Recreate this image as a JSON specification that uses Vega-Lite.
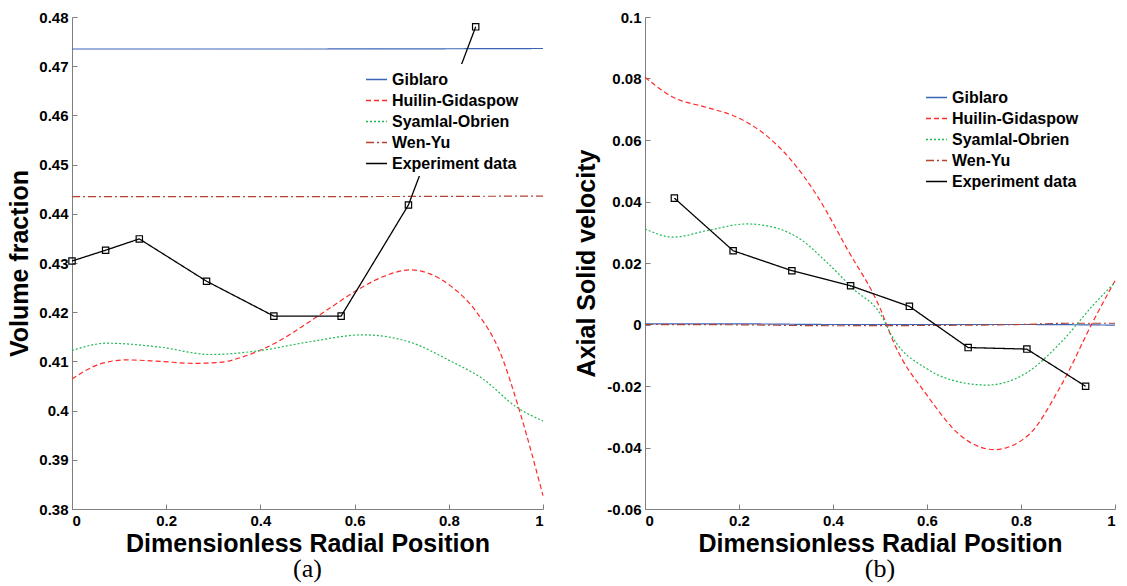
{
  "$schema": "https://vega.github.io/schema/vega-lite/v6.json",
  "background": "white",
  "padding": {"left": 7, "top": 10, "right": 5, "bottom": 3},
  "spacing": 102,
  "bounds": "flush",
  "resolve": {
    "scale": {"color": "independent", "strokeDash": "independent"},
    "legend": {"color": "independent", "strokeDash": "independent"}
  },
  "config": {
    "view": {"stroke": null},
    "font": "Liberation Sans",
    "axis": {
      "grid": false,
      "domainColor": "#7f7f7f",
      "tickColor": "#7f7f7f",
      "tickSize": -5,
      "labelFont": "Liberation Sans",
      "labelFontWeight": "bold",
      "labelFontSize": 15,
      "labelColor": "black",
      "titleFont": "Liberation Sans",
      "titleFontWeight": "bold",
      "titleFontSize": 25,
      "titleColor": "black"
    },
    "legend": {
      "labelFont": "Liberation Sans",
      "labelFontWeight": "bold",
      "labelFontSize": 16,
      "labelColor": "black",
      "symbolType": "stroke",
      "symbolSize": 441,
      "symbolStrokeWidth": 1.3,
      "fillColor": "white",
      "padding": 4,
      "rowPadding": 1,
      "labelOffset": 4,
      "labelLimit": 300
    }
  },
  "datasets": {
    "left": [
      {"series": "Giblaro", "x": 0, "y": 0.4735},
      {"series": "Giblaro", "x": 0.5, "y": 0.4735},
      {"series": "Giblaro", "x": 1, "y": 0.4736},
      {"series": "Wen-Yu", "x": 0, "y": 0.4435},
      {"series": "Wen-Yu", "x": 0.5, "y": 0.4435},
      {"series": "Wen-Yu", "x": 1, "y": 0.4436},
      {"series": "Huilin-Gidaspow", "x": 0, "y": 0.4064},
      {"series": "Huilin-Gidaspow", "x": 0.03, "y": 0.4082},
      {"series": "Huilin-Gidaspow", "x": 0.06, "y": 0.4095},
      {"series": "Huilin-Gidaspow", "x": 0.116, "y": 0.4103},
      {"series": "Huilin-Gidaspow", "x": 0.187, "y": 0.41},
      {"series": "Huilin-Gidaspow", "x": 0.258, "y": 0.4096},
      {"series": "Huilin-Gidaspow", "x": 0.314, "y": 0.4098},
      {"series": "Huilin-Gidaspow", "x": 0.371, "y": 0.4112},
      {"series": "Huilin-Gidaspow", "x": 0.435, "y": 0.4139},
      {"series": "Huilin-Gidaspow", "x": 0.5, "y": 0.4178},
      {"series": "Huilin-Gidaspow", "x": 0.55, "y": 0.421},
      {"series": "Huilin-Gidaspow", "x": 0.604, "y": 0.4244},
      {"series": "Huilin-Gidaspow", "x": 0.66, "y": 0.4272},
      {"series": "Huilin-Gidaspow", "x": 0.718, "y": 0.4286},
      {"series": "Huilin-Gidaspow", "x": 0.76, "y": 0.4278},
      {"series": "Huilin-Gidaspow", "x": 0.803, "y": 0.4254},
      {"series": "Huilin-Gidaspow", "x": 0.859, "y": 0.42},
      {"series": "Huilin-Gidaspow", "x": 0.909, "y": 0.4118},
      {"series": "Huilin-Gidaspow", "x": 0.951, "y": 0.3997},
      {"series": "Huilin-Gidaspow", "x": 1.0, "y": 0.3827},
      {"series": "Syamlal-Obrien", "x": 0, "y": 0.4122},
      {"series": "Syamlal-Obrien", "x": 0.074, "y": 0.4137},
      {"series": "Syamlal-Obrien", "x": 0.187, "y": 0.4129},
      {"series": "Syamlal-Obrien", "x": 0.293, "y": 0.4114},
      {"series": "Syamlal-Obrien", "x": 0.399, "y": 0.4122},
      {"series": "Syamlal-Obrien", "x": 0.505, "y": 0.414},
      {"series": "Syamlal-Obrien", "x": 0.618, "y": 0.4154},
      {"series": "Syamlal-Obrien", "x": 0.718, "y": 0.4139},
      {"series": "Syamlal-Obrien", "x": 0.803, "y": 0.4101},
      {"series": "Syamlal-Obrien", "x": 0.873, "y": 0.4064},
      {"series": "Syamlal-Obrien", "x": 0.944, "y": 0.4007},
      {"series": "Syamlal-Obrien", "x": 1.0, "y": 0.3979},
      {"series": "Experiment data", "x": 0, "y": 0.4304},
      {"series": "Experiment data", "x": 0.0714, "y": 0.4326},
      {"series": "Experiment data", "x": 0.1429, "y": 0.4349},
      {"series": "Experiment data", "x": 0.2857, "y": 0.4263},
      {"series": "Experiment data", "x": 0.4286, "y": 0.4192},
      {"series": "Experiment data", "x": 0.5714, "y": 0.4192},
      {"series": "Experiment data", "x": 0.7143, "y": 0.4418},
      {"series": "Experiment data", "x": 0.8571, "y": 0.478}
    ],
    "right": [
      {"series": "Giblaro", "x": 0, "y": 0.0002},
      {"series": "Giblaro", "x": 0.2, "y": 0.0002},
      {"series": "Giblaro", "x": 0.4, "y": 0.0},
      {"series": "Giblaro", "x": 0.6, "y": 0.0},
      {"series": "Giblaro", "x": 0.8, "y": 0.0},
      {"series": "Giblaro", "x": 1, "y": -0.0002},
      {"series": "Wen-Yu", "x": 0, "y": 0.0},
      {"series": "Wen-Yu", "x": 0.2, "y": -0.0001},
      {"series": "Wen-Yu", "x": 0.4, "y": -0.0004},
      {"series": "Wen-Yu", "x": 0.6, "y": -0.0003},
      {"series": "Wen-Yu", "x": 0.8, "y": 0.0},
      {"series": "Wen-Yu", "x": 0.9, "y": 0.0004},
      {"series": "Wen-Yu", "x": 1, "y": 0.0004},
      {"series": "Huilin-Gidaspow", "x": 0, "y": 0.0804},
      {"series": "Huilin-Gidaspow", "x": 0.06, "y": 0.0739},
      {"series": "Huilin-Gidaspow", "x": 0.131, "y": 0.0706},
      {"series": "Huilin-Gidaspow", "x": 0.188, "y": 0.0679},
      {"series": "Huilin-Gidaspow", "x": 0.245, "y": 0.063},
      {"series": "Huilin-Gidaspow", "x": 0.309, "y": 0.0538},
      {"series": "Huilin-Gidaspow", "x": 0.366, "y": 0.0419},
      {"series": "Huilin-Gidaspow", "x": 0.43, "y": 0.0246},
      {"series": "Huilin-Gidaspow", "x": 0.501, "y": 0.005},
      {"series": "Huilin-Gidaspow", "x": 0.529, "y": -0.0058},
      {"series": "Huilin-Gidaspow", "x": 0.601, "y": -0.0232},
      {"series": "Huilin-Gidaspow", "x": 0.672, "y": -0.0362},
      {"series": "Huilin-Gidaspow", "x": 0.743, "y": -0.0407},
      {"series": "Huilin-Gidaspow", "x": 0.814, "y": -0.0362},
      {"series": "Huilin-Gidaspow", "x": 0.885, "y": -0.0199},
      {"series": "Huilin-Gidaspow", "x": 0.956, "y": 0.0018},
      {"series": "Huilin-Gidaspow", "x": 1.0, "y": 0.0142},
      {"series": "Syamlal-Obrien", "x": 0, "y": 0.0311},
      {"series": "Syamlal-Obrien", "x": 0.06, "y": 0.0284},
      {"series": "Syamlal-Obrien", "x": 0.131, "y": 0.0305},
      {"series": "Syamlal-Obrien", "x": 0.217, "y": 0.0327},
      {"series": "Syamlal-Obrien", "x": 0.274, "y": 0.0316},
      {"series": "Syamlal-Obrien", "x": 0.33, "y": 0.0278},
      {"series": "Syamlal-Obrien", "x": 0.387, "y": 0.0202},
      {"series": "Syamlal-Obrien", "x": 0.444, "y": 0.0115},
      {"series": "Syamlal-Obrien", "x": 0.501, "y": 0.0034},
      {"series": "Syamlal-Obrien", "x": 0.529, "y": -0.0047},
      {"series": "Syamlal-Obrien", "x": 0.601, "y": -0.0145},
      {"series": "Syamlal-Obrien", "x": 0.672, "y": -0.0188},
      {"series": "Syamlal-Obrien", "x": 0.728, "y": -0.0197},
      {"series": "Syamlal-Obrien", "x": 0.814, "y": -0.0155},
      {"series": "Syamlal-Obrien", "x": 0.885, "y": -0.0058},
      {"series": "Syamlal-Obrien", "x": 0.956, "y": 0.0067},
      {"series": "Syamlal-Obrien", "x": 1.0, "y": 0.0137},
      {"series": "Experiment data", "x": 0.0625, "y": 0.0411},
      {"series": "Experiment data", "x": 0.1875, "y": 0.024},
      {"series": "Experiment data", "x": 0.3125, "y": 0.0175},
      {"series": "Experiment data", "x": 0.4375, "y": 0.0126},
      {"series": "Experiment data", "x": 0.5625, "y": 0.0059},
      {"series": "Experiment data", "x": 0.6875, "y": -0.0075},
      {"series": "Experiment data", "x": 0.8125, "y": -0.008},
      {"series": "Experiment data", "x": 0.9375, "y": -0.0201}
    ]
  },
  "hconcat": [
    {
      "width": 471,
      "height": 492,
      "title": {"text": "(a)", "orient": "bottom", "font": "Liberation Serif", "fontSize": 26, "fontWeight": "normal", "color": "black", "offset": 0},
      "data": {"name": "left"},
      "encoding": {
        "x": {"field": "x", "type": "quantitative", "scale": {"domain": [0, 1], "nice": false}, "axis": {"title": "Dimensionless Radial Position", "values": [0, 0.2, 0.4, 0.6, 0.8, 1], "format": "~g", "labelPadding": 9, "titlePadding": 3}},
        "y": {"field": "y", "type": "quantitative", "scale": {"domain": [0.38, 0.48], "nice": false, "zero": false}, "axis": {"title": "Volume fraction", "values": [0.38, 0.39, 0.4, 0.41, 0.42, 0.43, 0.44, 0.45, 0.46, 0.47, 0.48], "format": ".2~f", "labelPadding": 9, "titlePadding": 6}}
      },
      "layer": [
        {
          "transform": [{"filter": "datum.series !== 'Experiment data'"}],
          "mark": {"type": "line", "interpolate": "monotone", "strokeWidth": 1.2},
          "encoding": {
            "color": {"field": "series", "type": "nominal", "scale": {"domain": ["Giblaro", "Huilin-Gidaspow", "Syamlal-Obrien", "Wen-Yu", "Experiment data"], "range": ["#3b64b8", "#ff2a2a", "#1fb855", "#b5412e", "#000000"]}, "legend": {"title": null, "orient": "none", "legendX": 289, "legendY": 47}},
            "strokeDash": {"field": "series", "type": "nominal", "scale": {"domain": ["Giblaro", "Huilin-Gidaspow", "Syamlal-Obrien", "Wen-Yu", "Experiment data"], "range": [[1, 0], [5, 3], [2, 2], [8, 3, 2, 3], [1, 0]]}, "legend": {"title": null, "orient": "none", "legendX": 289, "legendY": 47}}
          }
        },
        {
          "transform": [{"filter": "datum.series === 'Experiment data'"}],
          "mark": {"type": "line", "strokeWidth": 1.3},
          "encoding": {
            "color": {"field": "series", "type": "nominal", "scale": {"domain": ["Giblaro", "Huilin-Gidaspow", "Syamlal-Obrien", "Wen-Yu", "Experiment data"], "range": ["#3b64b8", "#ff2a2a", "#1fb855", "#b5412e", "#000000"]}, "legend": {"title": null, "orient": "none", "legendX": 289, "legendY": 47}},
            "strokeDash": {"field": "series", "type": "nominal", "scale": {"domain": ["Giblaro", "Huilin-Gidaspow", "Syamlal-Obrien", "Wen-Yu", "Experiment data"], "range": [[1, 0], [5, 3], [2, 2], [8, 3, 2, 3], [1, 0]]}, "legend": {"title": null, "orient": "none", "legendX": 289, "legendY": 47}}
          }
        },
        {
          "transform": [{"filter": "datum.series === 'Experiment data'"}],
          "mark": {"type": "point", "shape": "square", "filled": false, "size": 40, "color": "black", "strokeWidth": 1.2, "opacity": 1}
        }
      ]
    },
    {
      "width": 470,
      "height": 492,
      "title": {"text": "(b)", "orient": "bottom", "font": "Liberation Serif", "fontSize": 26, "fontWeight": "normal", "color": "black", "offset": 0},
      "data": {"name": "right"},
      "encoding": {
        "x": {"field": "x", "type": "quantitative", "scale": {"domain": [0, 1], "nice": false}, "axis": {"title": "Dimensionless Radial Position", "values": [0, 0.2, 0.4, 0.6, 0.8, 1], "format": "~g", "labelPadding": 9, "titlePadding": 3}},
        "y": {"field": "y", "type": "quantitative", "scale": {"domain": [-0.06, 0.1], "nice": false, "zero": false}, "axis": {"title": "Axial Solid velocity", "values": [-0.06, -0.04, -0.02, 0, 0.02, 0.04, 0.06, 0.08, 0.1], "format": ".2~f", "labelExpr": "replace(datum.label, '\u2212', '-')", "labelPadding": 9, "titlePadding": 7}}
      },
      "layer": [
        {
          "transform": [{"filter": "datum.series !== 'Experiment data'"}],
          "mark": {"type": "line", "interpolate": "monotone", "strokeWidth": 1.2},
          "encoding": {
            "color": {"field": "series", "type": "nominal", "scale": {"domain": ["Giblaro", "Huilin-Gidaspow", "Syamlal-Obrien", "Wen-Yu", "Experiment data"], "range": ["#3b64b8", "#ff2a2a", "#1fb855", "#b5412e", "#000000"]}, "legend": {"title": null, "orient": "none", "legendX": 276, "legendY": 65}},
            "strokeDash": {"field": "series", "type": "nominal", "scale": {"domain": ["Giblaro", "Huilin-Gidaspow", "Syamlal-Obrien", "Wen-Yu", "Experiment data"], "range": [[1, 0], [5, 3], [2, 2], [8, 3, 2, 3], [1, 0]]}, "legend": {"title": null, "orient": "none", "legendX": 276, "legendY": 65}}
          }
        },
        {
          "transform": [{"filter": "datum.series === 'Experiment data'"}],
          "mark": {"type": "line", "strokeWidth": 1.3},
          "encoding": {
            "color": {"field": "series", "type": "nominal", "scale": {"domain": ["Giblaro", "Huilin-Gidaspow", "Syamlal-Obrien", "Wen-Yu", "Experiment data"], "range": ["#3b64b8", "#ff2a2a", "#1fb855", "#b5412e", "#000000"]}, "legend": {"title": null, "orient": "none", "legendX": 276, "legendY": 65}},
            "strokeDash": {"field": "series", "type": "nominal", "scale": {"domain": ["Giblaro", "Huilin-Gidaspow", "Syamlal-Obrien", "Wen-Yu", "Experiment data"], "range": [[1, 0], [5, 3], [2, 2], [8, 3, 2, 3], [1, 0]]}, "legend": {"title": null, "orient": "none", "legendX": 276, "legendY": 65}}
          }
        },
        {
          "transform": [{"filter": "datum.series === 'Experiment data'"}],
          "mark": {"type": "point", "shape": "square", "filled": false, "size": 40, "color": "black", "strokeWidth": 1.2, "opacity": 1}
        }
      ]
    }
  ]
}
